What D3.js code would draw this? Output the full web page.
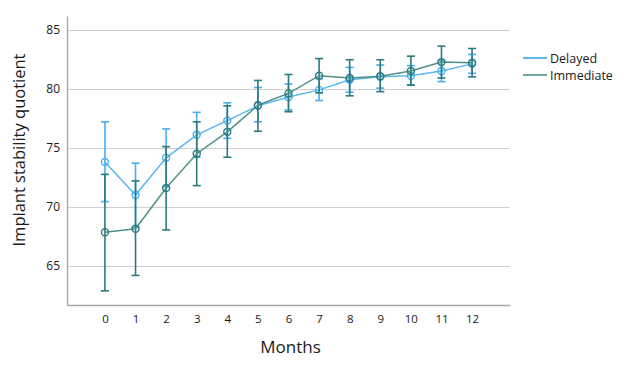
<!DOCTYPE html>
<html>
<head>
<meta charset="utf-8">
<script src="https://cdn.jsdelivr.net/npm/d3@7"></script>
<style>
  body { margin: 0; background: #fff; }
  text { font-family: "Open Sans", "Noto Sans", sans-serif; fill: #1a1a1a; }
</style>
</head>
<body>
<div id="chart"></div>
<script>
// Months on the x axis
const months = [0, 1, 2, 3, 4, 5, 6, 7, 8, 9, 10, 11, 12];
const yTicks = [65, 70, 75, 80, 85];

// Delayed group: mean, upper and lower error bar ends
const delayedMean  = [73.8, 71.0, 74.15, 76.1, 77.3, 78.55, 79.3, 79.9, 80.75, 81.0, 81.1, 81.5, 82.1];
const delayedUpper = [77.2, 73.7, 76.6, 78.0, 78.8, 80.1, 80.4, 80.85, 81.8, 82.0, 81.95, 82.4, 82.9];
const delayedLower = [70.45, 68.3, 71.7, 74.2, 75.8, 77.2, 78.2, 79.0, 79.7, 80.05, 80.3, 80.6, 81.3];

// Immediate group
const immediateMean  = [67.85, 68.15, 71.6, 74.5, 76.35, 78.6, 79.6, 81.1, 80.9, 81.05, 81.5, 82.25, 82.2];
const immediateUpper = [72.75, 72.2, 75.1, 77.2, 78.55, 80.7, 81.2, 82.55, 82.45, 82.45, 82.75, 83.6, 83.4];
const immediateLower = [62.9, 64.2, 68.05, 71.8, 74.2, 76.4, 78.05, 79.65, 79.4, 79.75, 80.3, 80.9, 81.0];

const width = 624, height = 366;
const margin = { top: 16, right: 114, bottom: 61, left: 67 };

const svg = d3.select('#chart')
    .append('svg')
    .attr('width', width)
    .attr('height', height);

const x = d3.scaleLinear()
    .domain([-1.24, 13.24])
    .range([margin.left, width - margin.right]);

const y = d3.scaleLinear()
    .domain([61.7, 86.15])
    .range([height - margin.bottom, margin.top]);

// Horizontal grid lines
svg.append('g')
    .selectAll('line')
    .data(yTicks)
    .enter()
    .append('line')
    .attr('x1', margin.left)
    .attr('x2', width - margin.right)
    .attr('y1', d => Math.round(y(d)) + 0.5)
    .attr('y2', d => Math.round(y(d)) + 0.5)
    .attr('stroke', '#cfcfcf')
    .attr('stroke-width', 1.2);

// Axes (no tick marks, just labels)
const yAxis = svg.append('g')
    .attr('transform', `translate(${margin.left},0)`)
    .call(d3.axisLeft(y).tickValues(yTicks).tickSize(0).tickPadding(7));
yAxis.select('.domain').attr('stroke', '#a6a6a6').attr('stroke-width', 1.3);
yAxis.selectAll('text').style('font-size', '12px').style('fill', '#1a1a1a');

const xAxis = svg.append('g')
    .attr('transform', `translate(0,${height - margin.bottom})`)
    .call(d3.axisBottom(x).tickValues(months).tickSize(0).tickPadding(10).tickFormat(d3.format('d')));
xAxis.select('.domain').attr('stroke', '#a6a6a6').attr('stroke-width', 1.3);
xAxis.selectAll('text').style('font-size', '11.5px').style('fill', '#1a1a1a');

// Axis titles
svg.append('text')
    .attr('x', x(6) + 2)
    .attr('y', 353)
    .attr('text-anchor', 'middle')
    .style('font-size', '17px')
    .text('Months');

svg.append('text')
    .attr('transform', `translate(25,150) rotate(-90)`)
    .attr('text-anchor', 'middle')
    .style('font-size', '16.5px')
    .text('Implant stability quotient');

// Draw one series with its error bars and hollow markers
function drawSeries(mean, upper, lower, lineColor, barColor) {
    const g = svg.append('g');
    const capHalf = 4;

    const bars = g.selectAll('.bar')
        .data(months)
        .enter()
        .append('g');

    bars.append('line')
        .attr('x1', d => x(d)).attr('x2', d => x(d))
        .attr('y1', (d, i) => y(upper[i])).attr('y2', (d, i) => y(lower[i]))
        .attr('stroke', barColor).attr('stroke-width', 1.6);

    [upper, lower].forEach(arr => {
        bars.append('line')
            .attr('x1', d => x(d) - capHalf).attr('x2', d => x(d) + capHalf)
            .attr('y1', (d, i) => y(arr[i])).attr('y2', (d, i) => y(arr[i]))
            .attr('stroke', barColor).attr('stroke-width', 1.6);
    });

    const line = d3.line()
        .x(d => x(d))
        .y((d, i) => y(mean[i]));

    g.append('path')
        .datum(months)
        .attr('d', line)
        .attr('fill', 'none')
        .attr('stroke', lineColor)
        .attr('stroke-width', 1.5);

    g.selectAll('circle')
        .data(months)
        .enter()
        .append('circle')
        .attr('cx', d => x(d))
        .attr('cy', (d, i) => y(mean[i]))
        .attr('r', 3.5)
        .attr('fill', 'none')
        .attr('stroke', barColor)
        .attr('stroke-width', 1.4);
}

drawSeries(delayedMean, delayedUpper, delayedLower, '#5cb6f0', '#4aaeee');
drawSeries(immediateMean, immediateUpper, immediateLower, '#4f9088', '#2b7a7c');

// Legend
const legendItems = [
    { name: 'Delayed', color: '#5cb6f0' },
    { name: 'Immediate', color: '#6fa8a2' }
];
const legend = svg.append('g').attr('transform', 'translate(523,58)');
legendItems.forEach((d, i) => {
    const item = legend.append('g').attr('transform', `translate(0,${i * 17})`);
    item.append('line')
        .attr('x1', 0).attr('x2', 24)
        .attr('stroke', d.color).attr('stroke-width', 2);
    item.append('text')
        .attr('x', 27)
        .attr('y', 4.5)
        .style('font-size', '12.5px')
        .text(d.name);
});
</script>
</body>
</html>
